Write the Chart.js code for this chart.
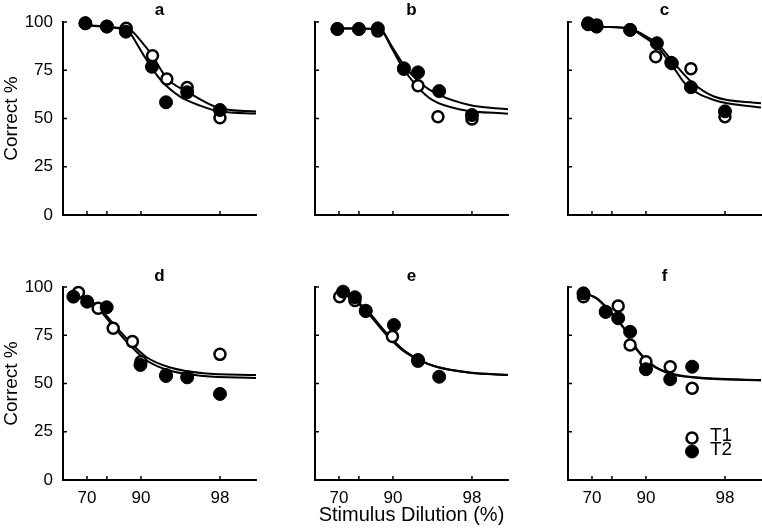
<!DOCTYPE html>
<html>
<head>
<meta charset="utf-8">
<script src="https://cdn.jsdelivr.net/npm/chart.js@4.4.0/dist/chart.umd.min.js"></script>
<style>
  html, body { margin: 0; padding: 0; background: #fff; overflow: hidden; }
  body { width: 762px; height: 528px; position: relative; }
  canvas { position: absolute; }
</style>
</head>
<body>
<canvas id="pa" width="257" height="250" style="left:0;top:0"></canvas>
<canvas id="pb" width="257" height="250" style="left:252px;top:0"></canvas>
<canvas id="pc" width="257" height="250" style="left:505px;top:0"></canvas>
<canvas id="pd" width="257" height="263" style="left:0;top:265px"></canvas>
<canvas id="pe" width="257" height="263" style="left:252px;top:265px"></canvas>
<canvas id="pf" width="257" height="263" style="left:505px;top:265px"></canvas>
<script>
// panels a-f, values (dilution %, correct %)
const panelLetters = ['a', 'b', 'c', 'd', 'e', 'f'];

const t1Dilution = [
  [69, 80, 86.5, 92.1, 94.1, 96.1, 98],
  [69, 80, 86.4, 92, 94, 96, 98],
  [67.5, 72.7, 86.2, 91.8, 94, 96, 98],
  [64.3, 76.1, 82.4, 88.1, 90, 94, 98],
  [70.4, 78.3, 82.6, 89.9, 94],
  [64.3, 77.3, 82.4, 86.2, 90, 93.9, 96.1]
];
const t1Correct = [
  [99.5, 97.8, 96.7, 82.5, 70.5, 66.0, 50.4],
  [96.4, 96.4, 95.3, 75.5, 67.0, 50.9, 49.7],
  [99.5, 98.5, 96.0, 82.0, 79.0, 75.8, 50.9],
  [97.1, 89.0, 78.6, 71.7, 61.3, 54.5, 65.1],
  [95.0, 93.0, 87.5, 74.3, 61.5],
  [95.0, 87.0, 90.2, 69.9, 61.3, 58.7, 47.5]
];
const t2Dilution = [
  [69, 80, 86.4, 92, 94, 96.1, 98],
  [69, 80, 86.4, 92, 94, 96.1, 98],
  [67.5, 72.7, 86.2, 92, 94.1, 96, 98],
  [60.4, 70.1, 79.9, 89.9, 94, 96.1, 98],
  [72.4, 78.3, 82.6, 90.2, 94, 96.1],
  [64.3, 77.3, 82.4, 86.2, 90, 93.9, 96.1]
];
const t2Correct = [
  [99.3, 97.6, 95.0, 76.8, 58.4, 63.6, 54.4],
  [96.4, 96.4, 96.7, 76.0, 73.9, 64.2, 51.8],
  [98.8, 97.6, 95.9, 89.0, 78.6, 66.2, 53.7],
  [95.0, 92.4, 89.5, 59.6, 53.9, 53.2, 44.6],
  [97.6, 94.7, 87.7, 80.3, 62.2, 53.5],
  [96.7, 87.2, 83.8, 76.8, 57.4, 52.2, 58.7]
];

// fitted curves
const fit1Dilution = [
  [69, 82.5, 87.5, 90.1, 92, 94.1, 96.1, 98, 99.04],
  [69, 86.7, 87.6, 89.6, 91.7, 93.7, 95.5, 97.6, 99.04],
  [67.5, 74.6, 86.2, 89.5, 92, 94.2, 96, 97.5, 99.04],
  [60.4, 75.2, 82.3, 87.4, 91.1, 94.4, 97.2, 99.04],
  [70, 77, 83.7, 88.4, 91.7, 94.1, 95.8, 97.9, 99.04],
  [64.3, 72.7, 79.2, 84.1, 87.9, 90.9, 93.9, 96.4, 99.04]
];
const fit1Correct = [
  [98.4, 97.1, 95.9, 89.8, 82.9, 70.8, 63.9, 55.3, 53.6],
  [96.7, 96.4, 95.3, 87.2, 76.9, 67.4, 59.6, 54.4, 52.5],
  [98.5, 97.6, 96.7, 93.3, 89.0, 79.5, 69.2, 61.4, 57.9],
  [96.7, 90.7, 81.2, 71.7, 63.6, 58.4, 55.3, 54.4],
  [97.0, 94.0, 85.9, 75.6, 67.4, 62.2, 58.8, 55.7, 54.5],
  [96.9, 94.0, 87.2, 79.4, 68.1, 60.4, 55.3, 53.2, 51.8]
];
const fit2Dilution = [
  [69, 82.5, 87.5, 89.5, 91.1, 93.3, 95.5, 97, 98, 99.04],
  [69, 86.7, 87.6, 89.6, 92, 94.1, 96.1, 97.9, 99.04],
  [67.5, 74.6, 86.2, 89.5, 92, 94.1, 95.6, 97.5, 99.04],
  [60.4, 75.2, 82.3, 87.4, 91.1, 94.4, 97.2, 99.04],
  [70, 77, 83.7, 88.4, 91.7, 94.1, 95.8, 97.9, 99.04],
  [64.3, 72.7, 79.2, 84.1, 87.9, 90.9, 93.9, 96.4, 99.04]
];
const fit2Correct = [
  [98.4, 97.1, 94.2, 87.2, 80.3, 70.0, 61.3, 56.7, 53.6, 52.6],
  [96.7, 96.4, 95.5, 88.1, 77.7, 69.1, 62.2, 57.0, 54.8],
  [98.5, 97.6, 96.4, 92.4, 87.3, 77.7, 67.4, 59.6, 55.7],
  [95.9, 89.8, 79.8, 70.0, 61.9, 56.7, 53.9, 52.9],
  [97.3, 94.6, 86.8, 76.6, 68.0, 62.4, 58.8, 55.6, 54.4],
  [97.1, 94.3, 87.6, 79.0, 67.5, 60.0, 55.0, 53.0, 51.6]
];

const xTickMarks = [70, 80, 90, 98];
const xTickLabels = [70, 90, 98];
const yTickValues = [0, 25, 50, 75, 100];
const seriesNames = ['T1', 'T2'];

const FONT = '"Liberation Sans", Arial, Helvetica, sans-serif';
Chart.defaults.font.family = FONT;
Chart.defaults.color = '#000';

// x axis is drawn on -log10(100 - dilution)
const toU = d => -Math.log10(100 - d);
const pts = (xs, ys) => xs.map((x, k) => ({ x: toU(x), y: ys[k] }));

const panelDecor = {
  id: 'panelDecor',
  beforeDatasetsDraw(chart, args, o) {
    const { ctx, chartArea: a, scales: { x, y } } = chart;
    ctx.save();
    ctx.strokeStyle = '#000';
    ctx.lineWidth = 1.5;
    ctx.beginPath();
    xTickMarks.forEach(v => {
      const px = x.getPixelForValue(toU(v));
      ctx.moveTo(px, a.bottom);
      ctx.lineTo(px, a.bottom - 4);
    });
    yTickValues.forEach(v => {
      const py = y.getPixelForValue(v);
      ctx.moveTo(a.left, py);
      ctx.lineTo(a.left + 4, py);
    });
    ctx.stroke();
    ctx.fillStyle = '#000';
    ctx.font = 'bold 17px ' + FONT;
    ctx.textAlign = 'center';
    ctx.textBaseline = 'alphabetic';
    ctx.fillText(o.letter, (a.left + a.right) / 2, a.top - o.letterGap);
    ctx.restore();
  },
  afterDraw(chart, args, o) {
    if (!o.legend) return;
    const { ctx, chartArea: a } = chart;
    ctx.save();
    const mx = a.left + 124, tx = a.left + 142;
    const rows = [a.top + 151, a.top + 164.5];
    ctx.font = '19px ' + FONT;
    ctx.textAlign = 'left';
    ctx.textBaseline = 'middle';
    rows.forEach((yy, k) => {
      ctx.beginPath();
      ctx.arc(mx, yy, k === 0 ? 5.5 : 6.5, 0, Math.PI * 2);
      ctx.fillStyle = k === 0 ? '#fff' : '#000';
      ctx.fill();
      ctx.lineWidth = k === 0 ? 2.5 : 1;
      ctx.strokeStyle = '#000';
      ctx.stroke();
      ctx.fillStyle = '#000';
      ctx.fillText(seriesNames[k], tx, yy - 2);
    });
    ctx.restore();
  }
};

function makePanel(i) {
  const col = i % 3, row = Math.floor(i / 3);
  const canvas = document.getElementById('p' + panelLetters[i]);
  const xAxisH = canvas.height - 22 - 193;
  const curve = (xs, ys) => ({
    data: pts(xs, ys), showLine: true, pointRadius: 0, borderColor: '#000',
    borderWidth: 2, cubicInterpolationMode: 'monotone', order: 3, clip: false
  });
  new Chart(canvas, {
    type: 'scatter',
    data: {
      datasets: [
        { label: seriesNames[1], data: pts(t2Dilution[i], t2Correct[i]), pointRadius: 6.5,
          backgroundColor: '#000', borderColor: '#000', borderWidth: 1, order: 1, clip: false },
        { label: seriesNames[0], data: pts(t1Dilution[i], t1Correct[i]), pointRadius: 5.5,
          backgroundColor: '#fff', borderColor: '#000', borderWidth: 2.5, order: 2, clip: false },
        curve(fit1Dilution[i], fit1Correct[i]),
        curve(fit2Dilution[i], fit2Correct[i])
      ]
    },
    options: {
      responsive: false,
      animation: false,
      events: [],
      layout: { autoPadding: false, padding: { top: 22, right: 1, left: 0, bottom: 0 } },
      plugins: {
        legend: { display: false },
        tooltip: { enabled: false },
        panelDecor: { letter: panelLetters[i], letterGap: row === 0 ? 7 : 6, legend: i === 5 }
      },
      scales: {
        x: {
          type: 'linear',
          min: toU(51.1),
          max: toU(99.04),
          grid: { display: false, drawTicks: false },
          border: { display: true, color: '#000', width: 2 },
          afterBuildTicks: s => { s.ticks = xTickLabels.map(v => ({ value: toU(v) })); },
          afterFit: s => { s.height = xAxisH; },
          ticks: {
            display: row === 1,
            padding: 8,
            font: { size: 17 },
            callback: (v, k) => String(xTickLabels[k])
          },
          title: {
            display: i === 4,
            text: 'Stimulus Dilution (%)',
            font: { size: 20 },
            padding: { top: 0, bottom: 1 }
          }
        },
        y: {
          min: 0,
          max: 100,
          grid: { display: false, drawTicks: false },
          border: { display: true, color: '#000', width: 2 },
          afterBuildTicks: s => { s.ticks = yTickValues.map(v => ({ value: v })); },
          afterFit: s => { s.width = 63; },
          ticks: { display: col === 0, padding: 10, font: { size: 17 } },
          title: {
            display: col === 0,
            text: 'Correct %',
            font: { size: 19 },
            padding: { top: 0, bottom: 0 }
          }
        }
      }
    },
    plugins: [panelDecor]
  });
}

panelLetters.forEach((p, i) => makePanel(i));
</script>
</body>
</html>
